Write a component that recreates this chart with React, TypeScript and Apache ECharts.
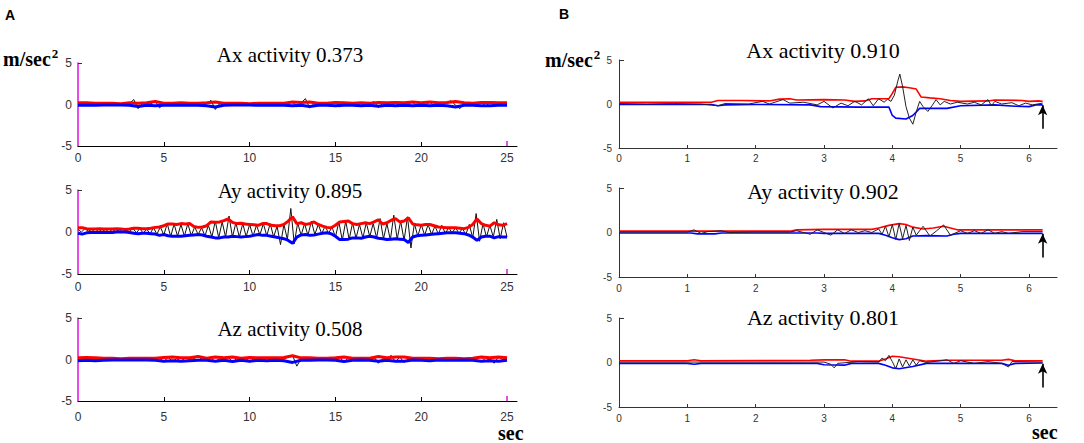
import React, { useEffect, useRef } from "react";
import * as echarts from "echarts";

// ---------- Panel A (25 s recording) ----------
const STEP_A_ENV = 0.5; // A1 / A3 envelopes
const STEP_A_BLACK = 0.25; // A1 / A3 raw signal
const STEP_A2_ENV = 0.25;
const STEP_A2_BLACK = 0.2;

const redA1 = [
  0.2, 0.2, 0.15, 0.15, 0.15, 0.1, 0.2, 0.15, 0.2, 0.35,
  0.15, 0.15, 0.2, 0.15, 0.15, 0.2, 0.3, 0.15, 0.15, 0.15,
  0.1, 0.15, 0.15, 0.15, 0.15, 0.3, 0.25, 0.3, 0.15, 0.15,
  0.25, 0.2, 0.15, 0.2, 0.15, 0.25, 0.2, 0.25, 0.2, 0.3,
  0.2, 0.3, 0.2, 0.25, 0.35, 0.2, 0.15, 0.25, 0.25, 0.2,
  0.2,
];
const blueA1 = [
  -0.1, -0.1, -0.1, -0.05, -0.05, -0.05, -0.1, -0.25, -0.1, -0.15,
  -0.1, -0.05, -0.1, -0.1, -0.1, -0.15, -0.3, -0.1, -0.05, -0.05,
  -0.05, -0.1, -0.1, -0.1, -0.1, -0.15, -0.1, -0.25, -0.1, -0.1,
  -0.15, -0.1, -0.1, -0.15, -0.1, -0.2, -0.1, -0.15, -0.1, -0.15,
  -0.1, -0.15, -0.1, -0.15, -0.3, -0.1, -0.1, -0.15, -0.15, -0.1,
  -0.1,
];
const blackA1 = [
  0.05, 0.0, 0.1, 0.0, 0.05, 0.0, 0.05, 0.0, 0.05, 0.0,
  0.05, 0.0, 0.1, 0.6, -0.5, 0.1, 0.0, 0.1, 0.4, -0.4,
  0.05, 0.0, 0.05, 0.0, 0.1, -0.05, 0.05, 0.0, 0.05, -0.05,
  0.1, 0.5, -0.6, 0.1, 0.0, 0.05, 0.0, 0.05, 0.0, 0.05,
  0.0, 0.05, -0.05, 0.1, 0.0, 0.05, 0.0, 0.1, -0.05, 0.1,
  0.35, -0.3, 0.2, 0.7, -0.4, 0.1, 0.0, 0.05, 0.0, 0.1,
  0.35, -0.3, 0.1, 0.0, 0.05, -0.05, 0.15, -0.1, 0.1, 0.35,
  -0.35, 0.1, 0.0, 0.3, -0.25, 0.3, 0.0, 0.1, 0.3, -0.2,
  0.1, 0.0, 0.3, -0.2, 0.1, 0.0, 0.3, 0.45, -0.1, -0.5,
  0.1, 0.0, 0.05, 0.0, 0.3, -0.2, 0.2, 0.3, -0.1, 0.1,
  0.05,
];

const redA2 = [
  0.5, 0.5, 0.4, 0.35, 0.35, 0.4, 0.35, 0.35, 0.35, 0.4,
  0.35, 0.3, 0.35, 0.45, 0.45, 0.4, 0.4, 0.45, 0.55, 0.6,
  0.75, 0.95, 0.95, 0.9, 1.0, 0.95, 1.0, 0.65, 0.55, 0.6,
  0.75, 1.2, 1.15, 1.2, 1.35, 1.55, 1.15, 1.0, 1.05, 0.95,
  0.9, 0.85, 0.8, 1.0, 1.0, 0.8, 0.75, 0.75, 0.9, 1.3,
  1.8, 1.0, 1.1, 0.9, 1.0, 1.2, 0.9, 0.7, 0.55, 0.5,
  0.8, 1.2, 1.25, 1.3, 1.0, 0.9, 1.0, 1.1, 1.0, 1.2,
  1.45, 0.95, 1.1, 1.4, 1.6, 1.2, 1.3, 1.7, 0.95, 0.85,
  0.8, 0.9, 0.9, 0.75, 0.6, 0.55, 0.5, 0.5, 0.5, 0.45,
  0.4, 0.55, 0.9, 1.55, 1.0, 0.8, 0.7, 1.1, 0.85, 0.8,
  1.0,
];
const blueA2 = [
  -0.15, -0.25, -0.1, -0.05, -0.05, -0.05, -0.05, -0.05, -0.05, 0.0,
  0.0, 0.0, -0.05, -0.15, -0.2, -0.15, -0.15, -0.2, -0.25, -0.4,
  -0.3, -0.45, -0.5, -0.5, -0.5, -0.45, -0.4, -0.35, -0.3, -0.35,
  -0.5, -0.6, -0.7, -0.7, -0.6, -0.6, -0.5, -0.55, -0.6, -0.55,
  -0.5, -0.4, -0.3, -0.4, -0.4, -0.5, -0.6, -0.7, -0.8, -1.0,
  -1.35, -0.6, -0.35, -0.3, -0.4, -0.35, -0.25, -0.15, -0.1, -0.2,
  -0.5, -0.9, -0.9, -0.85, -0.7, -0.7, -0.75, -0.6, -0.5, -0.6,
  -0.75, -0.8, -0.9, -0.85, -0.8, -0.85, -0.9, -1.25, -0.6, -0.45,
  -0.4, -0.35, -0.3, -0.25, -0.2, -0.15, -0.1, -0.1, -0.1, -0.15,
  -0.2, -0.35, -0.6, -1.0, -0.6, -0.5, -0.5, -0.7, -0.55, -0.6,
  -0.6,
];
const blackA2 = [
  0.3, 0.0, 0.4, 0.1, 0.3, 0.0, 0.3, 0.05, 0.3, 0.0,
  0.3, 0.05, 0.25, 0.0, 0.2, 0.05, 0.45, -0.1, 0.4, -0.15,
  0.35, -0.2, 0.5, -0.25, 0.6, -0.35, 1.0, -0.55, 0.95, -0.5,
  0.9, -0.5, 1.0, -0.45, 0.6, -0.3, 0.5, -0.45, 0.8, -0.6,
  1.3, -0.7, 1.2, -0.6, 1.9, -0.6, 1.1, -0.6, 1.0, -0.55,
  0.9, -0.5, 0.8, -0.35, 1.0, -0.45, 1.0, -0.6, 0.7, -1.5,
  0.9, -0.9, 2.8, -1.4, 1.1, -0.4, 1.0, -0.4, 1.3, -0.3,
  0.9, -0.2, 0.7, -0.15, 0.6, -0.6, 1.2, -1.0, 1.3, -0.9,
  1.1, -0.75, 0.9, -0.7, 1.1, -0.55, 1.0, -0.7, 1.6, -0.8,
  1.0, -0.95, 2.0, -0.85, 1.3, -1.0, 1.8, -1.9, 1.0, -0.5,
  0.9, -0.4, 0.9, -0.3, 0.7, -0.25, 0.8, -0.15, 0.5, -0.1,
  0.5, -0.15, 0.4, -0.3, 0.9, -0.7, 2.2, -1.1, 1.0, -0.6,
  0.8, -0.6, 1.5, -0.8, 1.1, -0.6,
];

const redA3 = [
  0.2, 0.25, 0.2, 0.15, 0.15, 0.1, 0.15, 0.15, 0.15, 0.15,
  0.25, 0.3, 0.2, 0.2, 0.35, 0.15, 0.3, 0.2, 0.3, 0.15,
  0.25, 0.2, 0.2, 0.2, 0.25, 0.45, 0.2, 0.2, 0.15, 0.15,
  0.2, 0.3, 0.15, 0.15, 0.15, 0.35, 0.2, 0.3, 0.3, 0.15,
  0.15, 0.15, 0.1, 0.15, 0.15, 0.1, 0.15, 0.3, 0.2, 0.3,
  0.2,
];
const blueA3 = [
  -0.15, -0.1, -0.15, -0.1, -0.05, -0.05, -0.05, -0.05, -0.05, -0.1,
  -0.2, -0.15, -0.2, -0.15, -0.1, -0.1, -0.2, -0.1, -0.25, -0.1,
  -0.2, -0.1, -0.15, -0.1, -0.15, -0.35, -0.1, -0.1, -0.05, -0.05,
  -0.1, -0.25, -0.1, -0.05, -0.1, -0.2, -0.1, -0.2, -0.2, -0.05,
  -0.1, -0.15, -0.05, -0.1, -0.1, -0.05, -0.1, -0.2, -0.15, -0.2,
  -0.1,
];
const blackA3 = [
  0.0, 0.2, -0.15, 0.1, 0.0, 0.05, 0.0, 0.05, 0.0, 0.05,
  0.0, 0.05, 0.0, 0.05, 0.0, 0.05, 0.0, 0.05, 0.0, 0.2,
  -0.3, 0.3, -0.25, 0.1, -0.2, 0.2, 0.0, 0.1, 0.4, -0.1,
  0.05, 0.2, -0.25, 0.1, 0.0, 0.3, -0.3, 0.1, 0.0, 0.2,
  -0.3, 0.1, 0.0, 0.15, -0.15, 0.1, 0.0, 0.1, 0.05, 0.3,
  0.5, -0.8, 0.1, 0.0, 0.15, -0.1, 0.05, 0.0, 0.05, 0.0,
  0.1, 0.3, -0.35, 0.2, -0.1, 0.05, 0.0, 0.05, 0.0, 0.3,
  -0.45, 0.1, 0.05, 0.5, -0.3, 0.3, -0.35, 0.05, 0.0, 0.05,
  0.0, 0.1, -0.1, 0.1, 0.0, 0.05, 0.0, 0.05, 0.0, 0.05,
  0.0, 0.05, 0.0, 0.1, 0.35, -0.2, 0.1, -0.45, 0.3, 0.0,
  0.05,
];

// ---------- Panel B (6.2 s recording), [time, value] ----------
const redB1 = [
  [0, 0.2], [0.5, 0.2], [1.0, 0.2], [1.35, 0.2], [1.45, 0.4], [1.8, 0.4], [2.2, 0.35],
  [2.35, 0.55], [2.5, 0.6], [2.6, 0.45], [3.0, 0.5], [3.3, 0.45], [3.45, 0.3], [3.6, 0.35],
  [3.7, 0.6], [3.95, 0.6], [4.0, 1.2], [4.05, 1.9], [4.15, 1.95], [4.25, 1.85], [4.35, 1.7],
  [4.42, 0.8], [4.55, 0.7], [4.7, 0.6], [4.85, 0.4], [5.0, 0.3], [5.4, 0.35], [5.5, 0.45],
  [5.9, 0.4], [6.0, 0.3], [6.15, 0.35], [6.2, 0.3],
];
const blueB1 = [
  [0, -0.05], [1.35, -0.05], [1.45, -0.2], [1.55, -0.1], [2.0, -0.05], [2.8, -0.1],
  [2.95, -0.3], [3.5, -0.35], [3.95, -0.35], [4.0, -1.3], [4.05, -1.6], [4.2, -1.7],
  [4.3, -1.3], [4.4, -0.5], [4.8, -0.5], [5.0, -0.2], [5.5, -0.1], [5.8, -0.25],
  [6.0, -0.3], [6.1, -0.1], [6.2, -0.1],
];
const blackB1 = [
  [0, 0.05], [0.4, 0.0], [0.8, 0.05], [1.2, 0.0], [1.45, -0.2], [1.55, 0.05], [1.9, 0.0],
  [2.1, 0.3], [2.2, 0.0], [2.4, 0.5], [2.5, 0.1], [2.7, 0.2], [2.9, -0.1], [3.0, 0.3],
  [3.13, -0.45], [3.25, 0.1], [3.35, -0.2], [3.45, 0.3], [3.55, -0.1], [3.65, 0.6],
  [3.72, -0.2], [3.8, 0.6], [3.88, 0.2], [3.93, 0.55], [3.98, 0.3], [4.03, 1.0],
  [4.08, 2.6], [4.11, 3.4], [4.15, 2.0], [4.2, -0.3], [4.25, -1.6], [4.3, -2.3],
  [4.35, -0.9], [4.4, 0.3], [4.45, -0.3], [4.52, -0.85], [4.58, -0.2], [4.64, 0.5],
  [4.7, -0.1], [4.76, 0.3], [4.85, 0.0], [4.95, 0.2], [5.1, 0.0], [5.2, 0.2], [5.3, -0.1],
  [5.4, 0.5], [5.45, -0.2], [5.5, 0.3], [5.6, 0.0], [5.75, 0.15], [5.85, -0.2],
  [5.95, 0.1], [6.05, -0.1], [6.2, 0.1],
];

const redB2 = [
  [0, 0.15], [2.5, 0.15], [2.6, 0.3], [3.0, 0.35], [3.7, 0.35], [3.8, 0.5], [3.95, 0.8],
  [4.1, 1.0], [4.2, 0.9], [4.3, 0.6], [4.45, 0.4], [4.6, 0.5], [4.75, 0.7], [4.85, 0.5],
  [4.95, 0.3], [5.5, 0.3], [6.2, 0.3],
];
const blueB2 = [
  [0, -0.05], [1.05, -0.05], [1.15, -0.15], [1.4, -0.15], [1.5, -0.05], [2.9, -0.05],
  [3.0, -0.1], [3.8, -0.1], [3.9, -0.3], [4.0, -0.6], [4.1, -0.8], [4.2, -0.7],
  [4.3, -0.4], [4.5, -0.35], [4.8, -0.4], [4.9, -0.2], [5.0, -0.1], [6.2, -0.1],
];
const blackB2 = [
  [0, 0.05], [1.0, 0.05], [1.1, 0.3], [1.2, -0.1], [1.3, 0.1], [1.5, 0.2], [1.6, 0.0],
  [2.0, 0.05], [2.5, 0.05], [2.6, 0.2], [2.8, -0.2], [2.9, 0.3], [3.0, 0.0], [3.1, -0.3],
  [3.2, 0.3], [3.3, -0.1], [3.4, 0.3], [3.5, 0.0], [3.6, 0.2], [3.7, 0.0], [3.8, 0.4],
  [3.85, -0.2], [3.9, 0.7], [3.95, -0.5], [4.0, 0.9], [4.05, -0.8], [4.1, 1.0],
  [4.15, -0.7], [4.2, 0.8], [4.25, -0.9], [4.3, 0.6], [4.35, -0.3], [4.45, 0.7],
  [4.55, -0.4], [4.65, 0.2], [4.75, 0.85], [4.85, -0.3], [5.0, 0.2], [5.1, -0.1],
  [5.2, 0.2], [5.3, -0.1], [5.4, 0.3], [5.5, -0.1], [5.6, 0.1], [5.7, -0.1], [5.9, 0.1],
  [6.2, 0.1],
];

const redB3 = [
  [0, 0.2], [1.0, 0.2], [1.1, 0.3], [1.2, 0.2], [2.8, 0.25], [3.0, 0.3], [3.3, 0.3],
  [3.4, 0.15], [3.8, 0.15], [3.9, 0.4], [4.0, 0.7], [4.1, 0.65], [4.3, 0.4], [4.5, 0.15],
  [4.8, 0.25], [5.6, 0.25], [5.7, 0.35], [5.8, 0.2], [6.2, 0.2],
];
const blueB3 = [
  [0, -0.1], [1.0, -0.1], [1.1, -0.2], [1.2, -0.1], [2.9, -0.1], [3.0, -0.25], [3.3, -0.3],
  [3.4, -0.1], [3.8, -0.1], [3.9, -0.3], [4.0, -0.6], [4.1, -0.7], [4.3, -0.45],
  [4.5, -0.1], [5.6, -0.1], [5.7, -0.3], [5.8, -0.1], [6.2, -0.05],
];
const blackB3 = [
  [0, 0.05], [1.0, 0.05], [2.0, 0.05], [3.0, 0.05], [3.1, -0.2], [3.15, -0.6], [3.2, -0.1],
  [3.5, 0.1], [3.8, 0.05], [3.85, 0.5], [3.9, 0.2], [3.95, 0.8], [4.0, 0.1], [4.05, -0.7],
  [4.1, 0.4], [4.15, -0.5], [4.2, 0.3], [4.25, -0.4], [4.3, 0.3], [4.35, -0.3], [4.4, 0.2],
  [4.5, 0.0], [4.8, 0.3], [4.9, -0.1], [5.0, 0.2], [5.2, -0.1], [5.4, 0.1], [5.6, -0.1],
  [5.7, -0.5], [5.75, 0.1], [6.2, 0.05],
];

const titlesA = ["Ax activity 0.373", "Ay activity 0.895", "Az activity 0.508"];
const titlesB = ["Ax activity 0.910", "Ay activity 0.902", "Az activity 0.801"];
const ticksA = [0, 5, 10, 15, 20, 25];
const ticksB = [0, 1, 2, 3, 4, 5, 6];
const yTicks = [-5, 0, 5];
const ARROW_T = 6.2;

const withTime = (vals: number[], step: number) =>
  vals.map((v, i) => [Math.round(i * step * 1000) / 1000, v]);

const MAGENTA = "#e010e0";

export default function App() {
  const ref = useRef<HTMLDivElement>(null);

  useEffect(() => {
    const chart = echarts.init(ref.current!, null, { renderer: "svg" });

    const gridsA = [
      { left: 78, top: 63, width: 439, height: 83, lm: 6 },
      { left: 78, top: 190, width: 439, height: 84, lm: 7 },
      { left: 78, top: 318, width: 439, height: 83, lm: 10 },
    ];
    const gridsB = [
      { left: 619, top: 60, width: 438, height: 88, lm: 5 },
      { left: 619, top: 188, width: 438, height: 89, lm: 6 },
      { left: 619, top: 318, width: 438, height: 89, lm: 6 },
    ];

    const grid: any[] = [];
    const xAxis: any[] = [];
    const yAxis: any[] = [];
    const series: any[] = [];

    const dataA = [
      { red: withTime(redA1, STEP_A_ENV), blue: withTime(blueA1, STEP_A_ENV), black: withTime(blackA1, STEP_A_BLACK) },
      { red: withTime(redA2, STEP_A2_ENV), blue: withTime(blueA2, STEP_A2_ENV), black: withTime(blackA2, STEP_A2_BLACK) },
      { red: withTime(redA3, STEP_A_ENV), blue: withTime(blueA3, STEP_A_ENV), black: withTime(blackA3, STEP_A_BLACK) },
    ];
    const dataB = [
      { red: redB1, blue: blueB1, black: blackB1 },
      { red: redB2, blue: blueB2, black: blackB2 },
      { red: redB3, blue: blueB3, black: blackB3 },
    ];

    const labelFont = '"Liberation Sans", Arial, sans-serif';

    gridsA.forEach((g, k) => {
      const idx = grid.length;
      grid.push({ left: g.left, top: g.top, width: g.width, height: g.height, containLabel: false });
      xAxis.push({
        type: "value",
        gridIndex: idx,
        min: 0,
        max: 25.58,
        position: "bottom",
        axisLine: { show: true, onZero: false, lineStyle: { color: "#000", width: 1 } },
        axisTick: { show: true, inside: true, length: 4, customValues: [5, 10, 15, 20], lineStyle: { color: "#000" } },
        axisLabel: {
          show: true,
          customValues: ticksA,
          margin: g.lm,
          fontSize: 12,
          color: "#333",
          fontFamily: labelFont,
        },
        splitLine: { show: false },
      });
      yAxis.push({
        type: "value",
        gridIndex: idx,
        min: -5,
        max: 5,
        interval: 5,
        axisLine: { show: true, lineStyle: { color: MAGENTA, width: 1.5 } },
        axisTick: { show: true, inside: true, length: 4, customValues: [5], lineStyle: { color: "#333" } },
        axisLabel: { show: true, customValues: yTicks, margin: 6, fontSize: 12, color: "#333", fontFamily: labelFont },
        splitLine: { show: false },
      });
      const d = dataA[k];
      series.push({
        type: "line", xAxisIndex: idx, yAxisIndex: idx, data: d.black, showSymbol: false, symbol: "none",
        lineStyle: { color: "#111", width: 1 }, z: 2, silent: true,
        markLine: {
          silent: true, symbol: "none", label: { show: false },
          lineStyle: { color: MAGENTA, width: 1.5, type: "solid" },
          data: [[{ coord: [25, -5] }, { coord: [25, -4.4] }]],
        },
      });
      series.push({
        type: "line", xAxisIndex: idx, yAxisIndex: idx, data: d.red, showSymbol: false, symbol: "none",
        lineStyle: { color: "#ff0000", width: 3 }, z: 3, silent: true,
      });
      series.push({
        type: "line", xAxisIndex: idx, yAxisIndex: idx, data: d.blue, showSymbol: false, symbol: "none",
        lineStyle: { color: "#0000ff", width: 3 }, z: 3, silent: true,
      });
    });

    gridsB.forEach((g, k) => {
      const idx = grid.length;
      grid.push({ left: g.left, top: g.top, width: g.width, height: g.height, containLabel: false });
      xAxis.push({
        type: "value",
        gridIndex: idx,
        min: 0,
        max: 6.41,
        position: "bottom",
        axisLine: { show: true, onZero: false, lineStyle: { color: "#333", width: 1 } },
        axisTick: { show: true, inside: true, length: 3, customValues: [1, 2, 3, 4, 5, 6], lineStyle: { color: "#333" } },
        axisLabel: { show: true, customValues: ticksB, margin: g.lm, fontSize: 10, color: "#333", fontFamily: labelFont },
        splitLine: { show: false },
      });
      yAxis.push({
        type: "value",
        gridIndex: idx,
        min: -5,
        max: 5,
        interval: 5,
        axisLine: { show: true, lineStyle: { color: "#333", width: 1 } },
        axisTick: { show: true, inside: true, length: 5, customValues: [5], lineStyle: { color: "#333" } },
        axisLabel: { show: true, customValues: yTicks, margin: 7, fontSize: 10, color: "#333", fontFamily: labelFont },
        splitLine: { show: false },
      });
      const d = dataB[k];
      series.push({
        type: "line", xAxisIndex: idx, yAxisIndex: idx, data: d.red, showSymbol: false, symbol: "none",
        lineStyle: { color: "#ff0000", width: 1.6 }, z: 2, silent: true,
      });
      series.push({
        type: "line", xAxisIndex: idx, yAxisIndex: idx, data: d.blue, showSymbol: false, symbol: "none",
        lineStyle: { color: "#0000ff", width: 1.6 }, z: 2, silent: true,
      });
      series.push({
        type: "line", xAxisIndex: idx, yAxisIndex: idx, data: d.black, showSymbol: false, symbol: "none",
        lineStyle: { color: "#222", width: 1 }, z: 3, silent: true,
        markLine: {
          silent: true,
          symbol: ["none", "arrow"],
          symbolSize: [7, 10],
          label: { show: false },
          lineStyle: { color: "#000", width: 1.6, type: "solid" },
          data: [[{ coord: [ARROW_T, -2.8] }, { coord: [ARROW_T, -0.15] }]],
        },
      });
    });

    const serif = '"Liberation Serif", "Times New Roman", serif';
    const titleY_A = [54.5, 191, 329];
    const titleY_B = [50.5, 191, 317];

    const texts: any[] = [];
    titlesA.forEach((t, i) =>
      texts.push({
        type: "text", x: 290, y: titleY_A[i], silent: true,
        style: { text: t, fill: "#000", font: `21px ${serif}`, align: "center", verticalAlign: "middle" },
      })
    );
    titlesB.forEach((t, i) =>
      texts.push({
        type: "text", x: 823, y: titleY_B[i], silent: true,
        style: { text: t, fill: "#000", font: `22px ${serif}`, align: "center", verticalAlign: "middle" },
      })
    );
    const unit = (x: number, y: number) => ({
      type: "text", x, y, silent: true,
      style: {
        text: "{m|m/sec}{s|2}",
        align: "left",
        verticalAlign: "middle",
        rich: {
          m: { fontFamily: serif, fontWeight: "bold", fontSize: 20, fill: "#000", lineHeight: 22, verticalAlign: "bottom" },
          s: { fontFamily: serif, fontWeight: "bold", fontSize: 13, fill: "#000", lineHeight: 22, verticalAlign: "top", padding: [0, 0, 0, 1] },
        },
      },
    });
    texts.push(unit(3, 58));
    texts.push(unit(545, 59));
    texts.push({
      type: "text", x: 498, y: 433, silent: true,
      style: { text: "sec", fill: "#000", font: `bold 20px ${serif}`, lineHeight: 14, align: "left", verticalAlign: "middle" },
    });
    texts.push({
      type: "text", x: 1032, y: 432, silent: true,
      style: { text: "sec", fill: "#000", font: `bold 20px ${serif}`, lineHeight: 14, align: "left", verticalAlign: "middle" },
    });
    texts.push({
      type: "text", x: 5, y: 15, silent: true,
      style: { text: "A", fill: "#000", font: `bold 14px ${labelFont}`, align: "left", verticalAlign: "middle" },
    });
    texts.push({
      type: "text", x: 559, y: 14, silent: true,
      style: { text: "B", fill: "#000", font: `bold 14px ${labelFont}`, align: "left", verticalAlign: "middle" },
    });

    chart.setOption({
      animation: false,
      backgroundColor: "#fff",
      grid,
      xAxis,
      yAxis,
      series,
      graphic: texts,
    });

    return () => chart.dispose();
  }, []);

  return (
    <div
      ref={ref}
      style={{ position: "fixed", left: 0, top: 0, width: 1084, height: 443, background: "#fff" }}
    />
  );
}
